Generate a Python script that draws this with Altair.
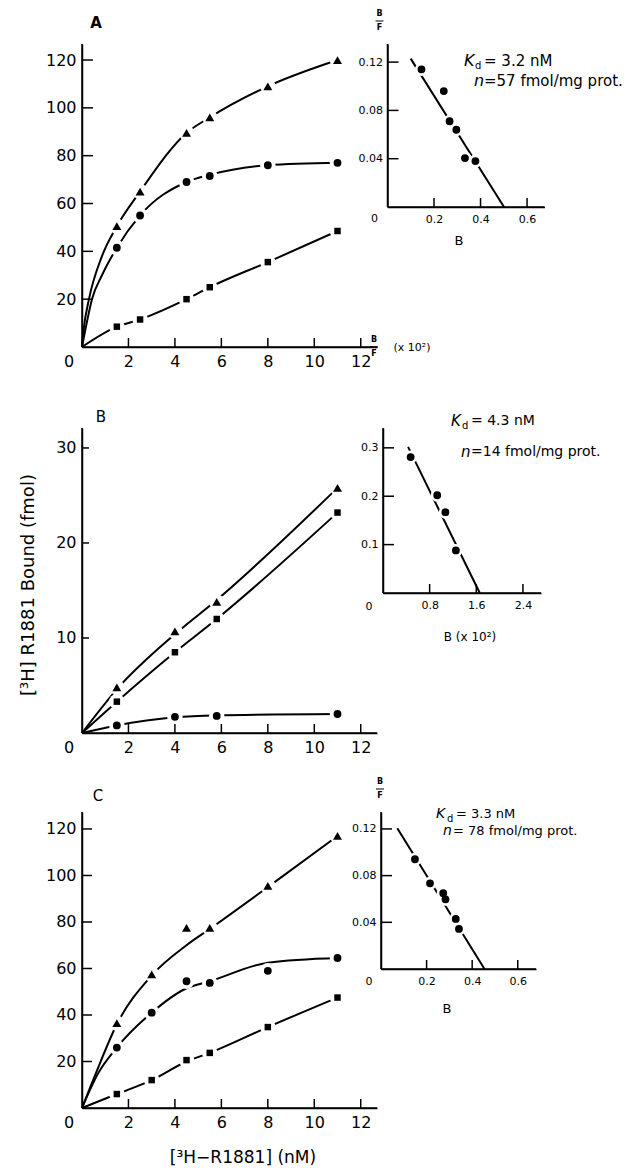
import altair as alt
import pandas as pd

FONT = "DejaVu Sans"
INK = "black"

# ---------------- data ----------------
# Panel A - saturation (x: [3H-R1881] nM, y: fmol bound)
A_conc = [1.5, 2.5, 4.5, 5.5, 8, 11]
A_tri = [50.5, 65, 89.5, 96, 109, 120]
A_cir = [41.5, 55, 69, 71.5, 76, 77]
A_sq = [8.5, 11.5, 20, 25, 35.5, 48.5]
A_tri_curve_x = [0, 0.08, 0.3, 0.86, 1.5, 2.5, 4.5, 5.5, 8, 11]
A_tri_curve_y = [0, 8, 20, 38, 50.5, 65, 89.5, 96, 109, 120]
A_cir_curve_x = [0, 0.15, 0.43, 0.86, 1.5, 2.5, 4.5, 5.5, 8, 11]
A_cir_curve_y = [0, 7.5, 20, 30, 41.5, 55, 69, 72, 76, 77]
A_sq_curve_x = [0, 1.5, 2.5, 4.5, 5.5, 8, 11]
A_sq_curve_y = [0, 8.5, 11.5, 20, 25, 35.5, 48.5]
# Panel A - Scatchard
A_B = [0.146, 0.242, 0.267, 0.296, 0.333, 0.378]
A_BF = [0.114, 0.096, 0.071, 0.064, 0.0405, 0.038]
A_fit_B = [0.0997, 0.501]
A_fit_BF = [0.1229, 0.0]

# Panel B
B_conc = [1.5, 4, 5.8, 11]
B_tri = [4.8, 10.7, 13.8, 25.8]
B_sq = [3.3, 8.5, 12.0, 23.2]
B_cir = [0.8, 1.7, 1.8, 2.0]
B_tri_curve_x = [0, 1.5, 4, 5.8, 11]
B_tri_curve_y = [0, 4.6, 10.4, 14.0, 25.8]
B_sq_curve_x = [0, 1.5, 4, 5.8, 11]
B_sq_curve_y = [0, 3.3, 8.5, 12.0, 23.2]
B_cir_curve_x = [0, 1.5, 4, 5.8, 11]
B_cir_curve_y = [0, 0.8, 1.65, 1.85, 2.0]
B_B = [0.474, 0.93, 1.07, 1.25]
B_BF = [0.281, 0.202, 0.167, 0.088]
B_fit_B = [0.43, 1.66]
B_fit_BF = [0.302, 0.0]

# Panel C
C_conc = [1.5, 3, 4.5, 5.5, 8, 11]
C_tri = [36.5, 57.5, 77.5, 77.5, 95.5, 117]
C_cir = [26, 41, 54.5, 53.8, 59, 64.5]
C_sq = [6, 12, 20.6, 23.7, 34.8, 47.5]
C_tri_curve_x = [0, 0.6, 1.5, 3, 4.5, 5.5, 8, 11]
C_tri_curve_y = [0, 15, 36, 57, 70, 77, 95, 117]
C_cir_curve_x = [0, 0.7, 1.5, 3, 4.5, 5.5, 8, 11]
C_cir_curve_y = [0, 15, 26, 41, 51.5, 54.5, 62.5, 64.5]
C_sq_curve_x = [0, 1.5, 3, 4.5, 5.5, 8, 11]
C_sq_curve_y = [0, 6, 12, 20, 23.7, 34.8, 47.5]
C_B = [0.149, 0.215, 0.273, 0.283, 0.328, 0.342]
C_BF = [0.094, 0.0734, 0.0649, 0.0597, 0.0429, 0.0343]
C_fit_B = [0.0715, 0.454]
C_fit_BF = [0.1206, 0.0]

X_TICKS = [2, 4, 6, 8, 10, 12]
AC_YTICKS = [20, 40, 60, 80, 100, 120]
B_YTICKS = [10, 20, 30]
SC_AC_XTICKS = [0.2, 0.4, 0.6]
SC_AC_YTICKS = [0.04, 0.08, 0.12]
SC_B_XTICKS = [0.8, 1.6, 2.4]
SC_B_YTICKS = [0.1, 0.2, 0.3]

SERIES = ["tri", "cir", "sq"]
SHAPES = ["triangle-up", "circle", "square"]
SIZES = [80, 42, 64]


def frame(xs, ys, name):
    return pd.DataFrame({"x": xs, "y": ys, "s": [name] * len(xs)})


def txt(s, x, y, size=14, align="center", style="normal", weight="normal", angle=0, baseline="middle"):
    return alt.Chart(pd.DataFrame({"t": [s]})).mark_text(
        font=FONT, fontSize=size, align=align, baseline=baseline, fontStyle=style,
        fontWeight=weight, angle=angle, color=INK
    ).encode(text="t:N", x=alt.value(x), y=alt.value(y))


def axis(vals, fmt, fs, pad):
    return alt.Axis(values=vals, format=fmt, title=None, ticks=False, tickSize=0, grid=False,
                    labelPadding=pad, labelFont=FONT, labelFontSize=fs, labelColor=INK,
                    labelFlush=False, labelOverlap=False, domainColor=INK, domainWidth=1.5,
                    zindex=1)


def panel(curves, points, xdom, ydom, w, h, xvals, yvals, xfmt, yfmt, fs, xpad, ypad,
          ytick_len, xtick_len, halo, sizes, lw, extra):
    xs = alt.Scale(domain=xdom, nice=False, zero=False)
    ys = alt.Scale(domain=ydom, nice=False, zero=False)
    X = alt.X("x:Q", scale=xs, axis=axis(xvals, xfmt, fs, xpad))
    Y = alt.Y("y:Q", scale=ys, axis=axis(yvals, yfmt, fs, ypad))
    layers = [
        alt.Chart(curves).mark_line(color=INK, strokeWidth=lw, interpolate="monotone")
        .encode(x=X, y=Y, detail="s:N"),
        alt.Chart(points).mark_point(shape="circle", filled=True, color="white",
                                     opacity=1, size=halo).encode(x=X, y=Y),
        alt.Chart(points).mark_point(filled=True, color=INK, opacity=1).encode(
            x=X, y=Y,
            shape=alt.Shape("s:N", scale=alt.Scale(domain=SERIES, range=SHAPES), legend=None),
            size=alt.Size("s:N", scale=alt.Scale(domain=SERIES, range=sizes), legend=None)),
        alt.Chart(pd.DataFrame({"y": yvals})).mark_rule(color=INK, strokeWidth=1.5)
        .encode(y=Y, x=alt.value(0), x2=alt.value(ytick_len)),
        alt.Chart(pd.DataFrame({"x": xvals})).mark_rule(color=INK, strokeWidth=1.5)
        .encode(x=X, y=alt.value(h), y2=alt.value(h - xtick_len)),
        # axis lines (drawn as marks so they always show)
        alt.Chart(pd.DataFrame({"t": [0]})).mark_rule(color=INK, strokeWidth=1.5)
        .encode(x=alt.value(0), y=alt.value(0), y2=alt.value(h)),
        alt.Chart(pd.DataFrame({"t": [0]})).mark_rule(color=INK, strokeWidth=1.5)
        .encode(x=alt.value(0), x2=alt.value(w), y=alt.value(h)),
    ]
    layers += extra
    return alt.layer(*layers).properties(width=w, height=h)


def corner0(xdom, ydom, dx, dy, fs):
    xs = alt.Scale(domain=xdom, nice=False, zero=False)
    ys = alt.Scale(domain=ydom, nice=False, zero=False)
    return alt.Chart(pd.DataFrame({"x": [0], "y": [0], "t": ["0"]})).mark_text(
        font=FONT, fontSize=fs, dx=dx, dy=dy, color=INK
    ).encode(x=alt.X("x:Q", scale=xs), y=alt.Y("y:Q", scale=ys), text="t:N")


def kd_block(x, y, kd, nval, nx, ny, fs=15):
    return [
        txt("K", x, y, size=fs + 1, align="left", style="italic"),
        txt("d", x + 11, y + 5, size=10, align="left"),
        txt("= " + kd, x + 20, y, size=fs, align="left"),
        txt("n", nx, ny, size=fs + 1, align="left", style="italic"),
        txt(nval, nx + 10, ny, size=fs, align="left"),
    ]


def frac(x, y):
    return [
        txt("B", x, y - 7, size=8, weight="bold"),
        txt("F", x, y + 7, size=8, weight="bold"),
        alt.Chart(pd.DataFrame({"t": [0]})).mark_rule(color=INK, strokeWidth=1)
        .encode(x=alt.value(x - 4), x2=alt.value(x + 4), y=alt.value(y)),
    ]


def main(conc, tri, cir, sq, ctx, cty, ccx, ccy, csx, csy, ymax, h, yvals, ytick_len, extra):
    pts = pd.concat([frame(conc, tri, "tri"), frame(conc, cir, "cir"), frame(conc, sq, "sq")])
    cur = pd.concat([frame(ctx, cty, "tri"), frame(ccx, ccy, "cir"), frame(csx, csy, "sq")])
    xdom, ydom = [0, 12.7], [0, ymax]
    ex = [corner0(xdom, ydom, -13, 15, 16)] + extra
    return panel(cur, pts, xdom, ydom, 295, h, X_TICKS, yvals, "d", "d", 16, 6, 6,
                 ytick_len, 9, 240, SIZES, 2, ex)


def scat(bx, bf, fx, ff, xmax, ymax, w, h, xvals, yvals, xfmt, yfmt, c0dx, c0dy, extra):
    pts = frame(bx, bf, "cir")
    cur = frame(fx, ff, "fit")
    xdom, ydom = [0, xmax], [0, ymax]
    ex = [corner0(xdom, ydom, c0dx, c0dy, 11)] + extra
    return panel(cur, pts, xdom, ydom, w, h, xvals, yvals, xfmt, yfmt, 11, 6, 5,
                 11, 9, 170, [75, 45, 62], 2, ex)


mainA = main(A_conc, A_tri, A_cir, A_sq, A_tri_curve_x, A_tri_curve_y, A_cir_curve_x, A_cir_curve_y,
             A_sq_curve_x, A_sq_curve_y, 126.7, 303, AC_YTICKS, 11,
             [txt("A", 14, -21, size=15, weight="bold")])
scA = scat(A_B, A_BF, A_fit_B, A_fit_BF, 0.675, 0.135, 157, 163, SC_AC_XTICKS, SC_AC_YTICKS,
           ".1f", ".2f", -13, 12,
           kd_block(76.5, 17, "3.2 nM", "=57  fmol/mg  prot.", 86.5, 37) + frac(-8, -23)
           + [txt("B", 71.5, 197, size=13)])

mainB = main(B_conc, B_tri, B_cir, B_sq, B_tri_curve_x, B_tri_curve_y, B_cir_curve_x, B_cir_curve_y,
             B_sq_curve_x, B_sq_curve_y, 32.1, 305, B_YTICKS, 7,
             [txt("B", 19, -11, size=15),
              txt("[³H] R1881 Bound  (fmol)", -53, 157, size=18, angle=270)])
scB = scat(B_B, B_BF, B_fit_B, B_fit_BF, 2.71, 0.341, 158, 165, SC_B_XTICKS, SC_B_YTICKS,
           ".1f", ".1f", -14, 14,
           kd_block(68, -7, "4.3 nM", " =14  fmol/mg  prot.", 78, 24, fs=14) + frac(-9, -81)
           + [txt("(x 10²)", 29, -80, size=11), txt("B  (x 10²)", 87, 209, size=12)])

mainC = main(C_conc, C_tri, C_cir, C_sq, C_tri_curve_x, C_tri_curve_y, C_cir_curve_x, C_cir_curve_y,
             C_sq_curve_x, C_sq_curve_y, 127.3, 296, AC_YTICKS, 10,
             [txt("C", 16, -16, size=15),
              txt("[³H−R1881]  (nM)", 161, 346, size=17)])
scC = scat(C_B, C_BF, C_fit_B, C_fit_BF, 0.68, 0.1345, 155, 157, SC_AC_XTICKS, SC_AC_YTICKS,
           ".1f", ".2f", -12, 13,
           kd_block(55, 2, "3.3 nM", "= 78  fmol/mg  prot.", 62, 19, fs=13) + frac(-1, -23)
           + [txt("B", 66, 197, size=13)])

rowA = alt.hconcat(mainA, scA, spacing=10.5, bounds="flush")
rowB = alt.hconcat(mainB, scB, spacing=6, bounds="flush")
rowC = alt.hconcat(mainC, scC, spacing=4, bounds="flush")

# with flush bounds the nested rows count as zero height, so spacing = distance between row tops
chart = alt.vconcat(rowA, rowB, rowC, spacing=384, bounds="flush").properties(
    padding={"left": 12, "top": 2, "right": 0, "bottom": 0}
).configure_view(strokeWidth=0)

chart.save("out.html", embed_options={"renderer": "svg", "actions": False})
